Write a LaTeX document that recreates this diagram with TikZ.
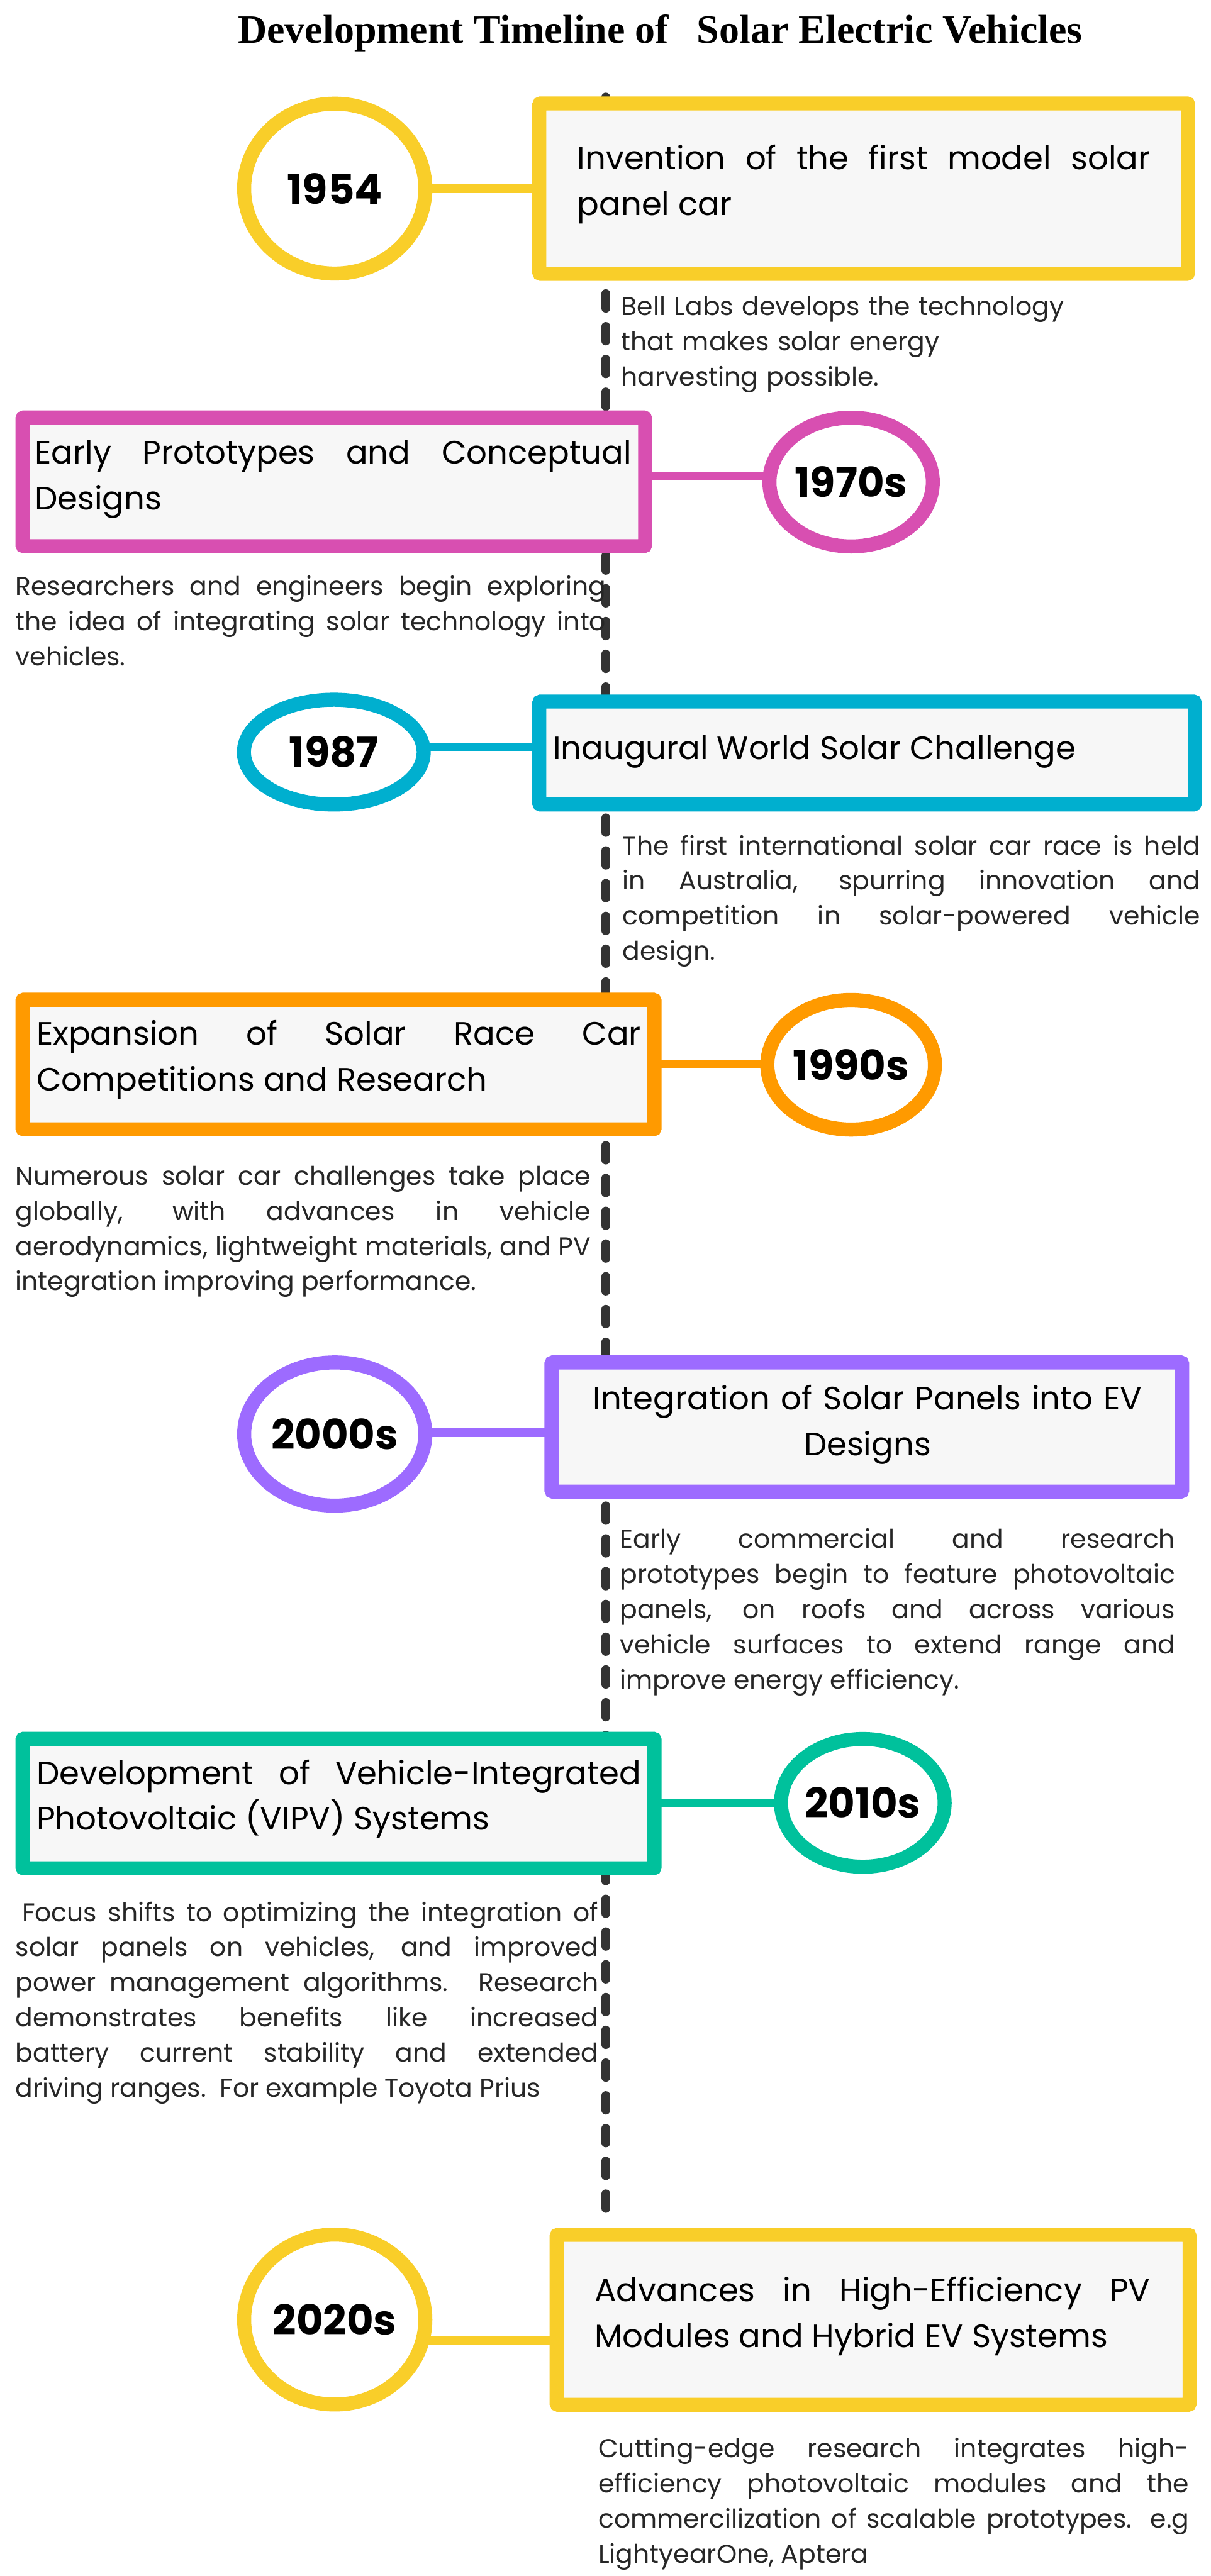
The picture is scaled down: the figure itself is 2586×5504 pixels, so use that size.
\documentclass[tikz,border=0pt]{standalone}
\usepackage{fontspec}
\setmainfont{Poppins}
\newfontfamily\hdserif{Liberation Serif}
\usetikzlibrary{shapes.geometric,backgrounds}
\definecolor{cyellow}{HTML}{F9CE29}
\definecolor{cmagenta}{HTML}{D84FB1}
\definecolor{ccyan}{HTML}{00AFCF}
\definecolor{corange}{HTML}{FF9A00}
\definecolor{cpurple}{HTML}{9D6BFF}
\definecolor{cteal}{HTML}{00C19C}
\definecolor{boxfill}{HTML}{F7F7F7}
\definecolor{spinegray}{HTML}{333333}
\newcommand\yrfont{\bfseries\fontsize{88}{92}\selectfont}
\newcommand\ttlfont{\fontsize{69}{98}\selectfont}
\newcommand\dscfont{\fontsize{55}{75}\selectfont}
\newcommand\hdfont{\hdserif\bfseries\fontsize{86}{90}\selectfont}
\tikzset{
  yr/.style={ellipse, draw=#1, line width=30pt, fill=white, inner sep=0pt, font=\yrfont, text=black},
  evbox/.style={rectangle, draw=#1, line width=30pt, fill=boxfill, rounded corners=3pt, inner sep=0pt},
  link/.style={draw=#1, line width=18pt},
  ttl/.style={anchor=north west, inner sep=0pt, font=\ttlfont, align=justify, text=black},
  dsc/.style={anchor=north west, inner sep=0pt, font=\dscfont, align=justify, text=black!85},
  spine/.style={draw=spinegray, line width=18pt, line cap=round, dash pattern=on 32pt off 38pt}
}
\begin{document}
\begin{tikzpicture}[x=1pt,y=-1pt]
\useasboundingbox (0,0) rectangle (2586,5504);
% title
\node[font=\hdfont, anchor=base, inner sep=0pt] (head) at (1410,92) {Development Timeline of\hspace{60pt}Solar Electric Vehicles};
\coordinate (spinetop) at (1294,207);
\coordinate (spinebot) at (1294,4753);

% ---- 1954
\node[yr=cyellow, minimum width=387pt, minimum height=363pt] (y1) at (715,403) {1954};
\node[evbox=cyellow, minimum width=1386pt, minimum height=364pt] (b1) at (1845,403) {};
\node[ttl, text width=1224pt] (t1) at (1233,294) {\strut Invention of the first model solar\linebreak panel car};
\node[dsc, align=left, text width=1200pt] (d1) at (1327,621.5) {\strut Bell Labs develops the technology\\that makes solar energy\\harvesting possible.};

% ---- 1970s
\node[evbox=cmagenta, minimum width=1330pt, minimum height=275pt] (b2) at (713,1029.5) {};
\node[yr=cmagenta, minimum width=349pt, minimum height=275pt] (y2) at (1818,1030) {1970s};
\node[ttl, text width=1275pt] (t2) at (74,922.4) {\strut Early Prototypes and Conceptual\linebreak Designs};
\node[dsc, text width=1261pt] (d2) at (33,1219.5) {\strut Researchers and engineers begin exploring\linebreak the idea of integrating solar technology into\linebreak vehicles.};
\coordinate (k2) at (0,1018);

% ---- 1987
\node[yr=ccyan, minimum width=384pt, minimum height=224pt] (y3) at (713,1607) {1987};
\node[evbox=ccyan, minimum width=1400pt, minimum height=220pt] (b3) at (1852,1609) {};
\node[font=\ttlfont, anchor=base west, inner sep=0pt] (t3) at (1181,1622) {Inaugural World Solar Challenge};
\node[dsc, text width=1234pt] (d3) at (1330,1773.5) {\strut The first international solar car race is held\linebreak in Australia, spurring innovation and\linebreak competition in solar-powered vehicle\linebreak design.};
\coordinate (k3) at (0,1596);

% ---- 1990s
\node[evbox=corange, minimum width=1350pt, minimum height=277pt] (b4) at (723,2274.5) {};
\node[yr=corange, minimum width=358pt, minimum height=277pt] (y4) at (1818,2275) {1990s};
\node[ttl, text width=1291pt] (t4) at (78,2164.4) {\strut Expansion of Solar Race Car\linebreak Competitions and Research};
\node[dsc, text width=1229pt] (d4) at (33,2479.5) {\strut Numerous solar car challenges take place\linebreak globally, with advances in vehicle\linebreak aerodynamics, lightweight materials, and PV\linebreak integration improving performance.};
\coordinate (k4) at (0,2273);

% ---- 2000s
\node[yr=cpurple, minimum width=387pt, minimum height=306pt] (y5) at (715,3064) {2000s};
\node[evbox=cpurple, minimum width=1347pt, minimum height=276pt] (b5) at (1851.5,3049) {};
\node[ttl, anchor=north, align=center, text width=1320pt] (t5) at (1853,2943.4) {\strut Integration of Solar Panels into EV\\Designs};
\node[dsc, text width=1186pt] (d5) at (1324,3255.5) {\strut Early commercial and research\linebreak prototypes begin to feature photovoltaic\linebreak panels, on roofs and across various\linebreak vehicle surfaces to extend range and\linebreak improve energy efficiency.};
\coordinate (k5) at (0,3061);

% ---- 2010s
\node[evbox=cteal, minimum width=1350pt, minimum height=277pt] (b6) at (723,3853.5) {};
\node[yr=cteal, minimum width=333pt, minimum height=273pt] (y6) at (1843,3852) {2010s};
\node[ttl, text width=1291pt] (t6) at (78,3743.4) {\strut Development of Vehicle-Integrated\linebreak Photovoltaic (VIPV) Systems};
\node[dsc, text width=1245pt] (d6) at (33,4052.5) {\strut\hspace*{14pt}Focus shifts to optimizing the integration of\linebreak solar panels on vehicles, and improved\linebreak power management algorithms. Research\linebreak demonstrates benefits like increased\linebreak battery current stability and extended\linebreak driving ranges.\ \ For example Toyota Prius};
\coordinate (k6) at (0,3852);

% ---- 2020s
\node[yr=cyellow, minimum width=387pt, minimum height=363pt] (y7) at (715,4956) {2020s};
\node[evbox=cyellow, minimum width=1352pt, minimum height=363pt] (b7) at (1865,4956.5) {};
\node[ttl, text width=1187pt] (t7) at (1270,4848.4) {\strut Advances in High-Efficiency PV\linebreak Modules and Hybrid EV Systems};
\node[dsc, text width=1262pt] (d7) at (1278,5198.5) {\strut Cutting-edge research integrates high-\linebreak efficiency photovoltaic modules and the\linebreak commercilization of scalable prototypes. e.g\linebreak LightyearOne, Aptera};
\coordinate (k7) at (0,5001);

\begin{pgfonlayer}{background}
\fill[white] (0,0) rectangle (2586,5504);
\draw[spine] (spinetop) -- (spinebot);
\draw[link=cyellow] (y1) -- (b1);
\draw[link=cmagenta] (b2 |- k2) -- (y2 |- k2);
\draw[link=ccyan] (y3 |- k3) -- (b3 |- k3);
\draw[link=corange] (b4 |- k4) -- (y4 |- k4);
\draw[link=cpurple] (y5 |- k5) -- (b5 |- k5);
\draw[link=cteal] (b6 |- k6) -- (y6 |- k6);
\draw[link=cyellow] (y7 |- k7) -- (b7 |- k7);
\end{pgfonlayer}
\end{tikzpicture}
\end{document}
